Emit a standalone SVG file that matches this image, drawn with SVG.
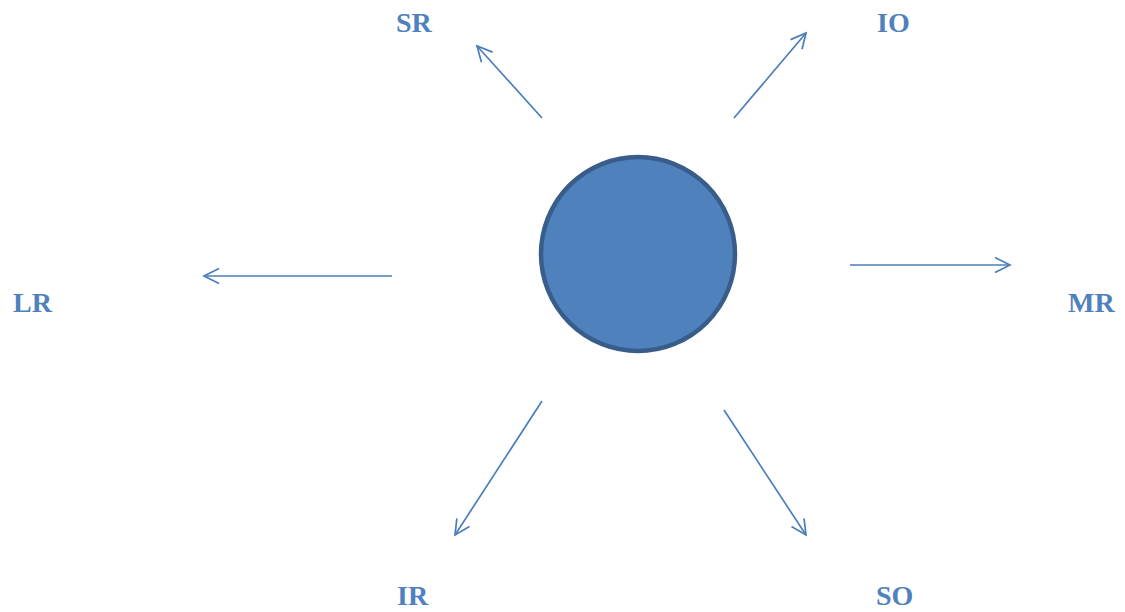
<svg xmlns="http://www.w3.org/2000/svg" width="1125" height="612" viewBox="0 0 1125 612">
<style>
.lbl{font-family:"Liberation Serif","DejaVu Serif",serif;font-weight:bold;font-size:28px;fill:#4f81bd}
.conn{stroke:#4a7ebb;stroke-width:1.7;fill:none;marker-end:url(#ah)}
</style>
<defs>
<marker id="ah" viewBox="0 0 20 20" refX="18" refY="10" markerWidth="20" markerHeight="20" markerUnits="userSpaceOnUse" orient="auto">
<path d="M3,2.5 L18,10 L3,17.5" fill="none" stroke="#4a7ebb" stroke-width="1.7"/>
</marker>
</defs>
<rect width="1125" height="612" fill="#ffffff"/>
<g id="center">
<circle cx="638" cy="254" r="97" fill="#4f81bd" stroke="#385d8a" stroke-width="4.5"/>
</g>
<g id="connectors">
<line class="conn" x1="542" y1="118" x2="477" y2="46"/>
<line class="conn" x1="734" y1="118" x2="806" y2="33"/>
<line class="conn" x1="392" y1="276" x2="204" y2="276"/>
<line class="conn" x1="850" y1="265" x2="1010" y2="265"/>
<line class="conn" x1="542" y1="401" x2="455" y2="535"/>
<line class="conn" x1="724" y1="410" x2="806" y2="535"/>
</g>
<g id="SR"><text class="lbl" x="396" y="32">SR</text></g>
<g id="IO"><text class="lbl" x="877" y="32">IO</text></g>
<g id="LR"><text class="lbl" x="13" y="312">LR</text></g>
<g id="MR"><text class="lbl" x="1068" y="312">MR</text></g>
<g id="IR"><text class="lbl" x="397" y="605">IR</text></g>
<g id="SO"><text class="lbl" x="876" y="605">SO</text></g>
</svg>
